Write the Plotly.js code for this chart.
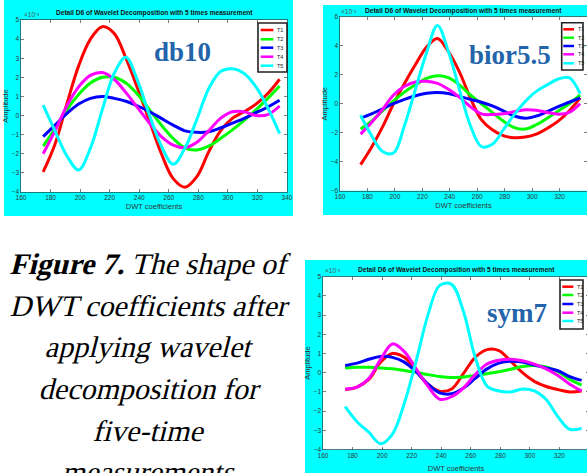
<!DOCTYPE html>
<html><head><meta charset="utf-8">
<script src="https://cdn.plot.ly/plotly-3.0.1.min.js"></script>
<style>html,body{margin:0;padding:0;overflow:hidden;background:#fff}#chart{width:590px;height:473px}</style>
</head><body><div id="chart"></div>
<script>
// ---------- data (values in units of 1e-3) ----------
const coeffIdx = [175,183,191,199,207,215,223,231,239,247,255,263,271,279,287,295,303,311,319,327,335];
const seriesNames = ['T1','T2','T3','T4','T5'];
const seriesColors = ['#FF0000','#00FF00','#0000FF','#FF00FF','#00FFFF'];

const db10_T1 = [-2.95,-1.5,0.6,2.6,4.0,4.65,4.3,3.0,1.4,-0.3,-2.0,-3.3,-3.75,-3.2,-1.9,-0.8,-0.15,0.2,0.6,1.15,1.9];
const db10_T2 = [-1.6,-0.7,0.3,1.1,1.7,2.0,2.0,1.7,1.1,0.3,-0.5,-1.2,-1.7,-1.8,-1.6,-1.2,-0.75,-0.25,0.3,0.9,1.55];
const db10_T3 = [-1.1,-0.5,0.1,0.6,0.9,1.0,0.9,0.75,0.5,0.2,-0.15,-0.5,-0.8,-0.88,-0.85,-0.65,-0.4,-0.15,0.15,0.45,0.8];
const db10_T4 = [-2.0,-0.8,0.5,1.5,2.1,2.25,1.9,1.2,0.4,-0.4,-1.1,-1.55,-1.68,-1.4,-0.8,-0.15,0.2,0.2,0.0,0.05,0.5];
const db10_T5 = [0.55,-0.8,-2.1,-2.85,-1.7,0.3,2.2,3.05,1.8,0.0,-1.6,-2.55,-1.7,-0.2,1.4,2.3,2.45,2.2,1.5,0.4,-0.95];

const bior55_T1 = [-4.2,-3.0,-1.6,0.0,1.4,2.7,3.9,4.5,3.6,2.2,0.4,-1.1,-1.8,-2.2,-2.35,-2.3,-2.1,-1.7,-1.2,-0.5,0.4];
const bior55_T2 = [-1.75,-1.2,-0.5,0.2,0.8,1.3,1.75,1.93,1.8,1.3,0.6,0.0,-0.6,-1.2,-1.65,-1.75,-1.45,-1.0,-0.5,0.0,0.6];
const bior55_T3 = [-1.0,-0.7,-0.35,0.0,0.3,0.55,0.72,0.78,0.7,0.5,0.3,0.1,-0.15,-0.5,-0.85,-1.0,-0.85,-0.55,-0.2,0.1,0.4];
const bior55_T4 = [-2.1,-1.3,-0.4,0.6,1.2,1.5,1.55,1.4,1.0,0.45,-0.2,-0.7,-0.75,-0.7,-0.55,-0.42,-0.45,-0.6,-0.72,-0.6,0.0];
const bior55_T5 = [-0.8,-2.2,-3.3,-3.4,-1.5,1.0,3.5,5.4,3.6,1.0,-1.5,-2.95,-2.8,-1.8,-0.75,0.15,0.85,1.3,1.7,1.8,0.7];

const sym7_T1 = [-0.88,-0.75,-0.35,0.55,1.0,0.8,0.1,-0.6,-0.97,-0.85,-0.05,0.8,1.2,1.15,0.6,0.0,-0.45,-0.72,-0.88,-1.0,-0.95];
const sym7_T2 = [0.25,0.28,0.28,0.25,0.2,0.12,0.02,-0.1,-0.2,-0.25,-0.22,-0.15,-0.05,0.05,0.18,0.32,0.38,0.3,0.05,-0.35,-0.65];
const sym7_T3 = [0.38,0.5,0.7,0.85,0.8,0.55,0.05,-0.6,-1.05,-1.1,-0.8,-0.3,0.2,0.5,0.6,0.55,0.4,0.25,0.1,-0.2,-0.4];
const sym7_T4 = [-0.85,-0.75,-0.3,0.7,1.5,1.1,0.2,-0.7,-1.38,-1.25,-0.8,-0.1,0.45,0.65,0.7,0.62,0.45,0.2,-0.15,-0.6,-0.95];
const sym7_T5 = [-1.77,-2.55,-3.1,-3.7,-3.2,-1.6,0.6,3.0,4.55,4.6,3.2,0.8,-0.7,-0.95,-1.0,-0.85,-0.95,-1.4,-2.3,-2.95,-2.9];

const xTickVals = [160,180,200,220,240,260,280,300,320,340];
const yTicksA = [-4,-3,-2,-1,0,1,2,3,4,5];
const yTicksB = [-6,-4,-2,0,2,4,6];
const panelTitle = 'Detail D6 of Wavelet Decomposition with 5 times measurement';
const xTitle = 'DWT coefficients';
const yTitle = 'Amplitude';
const expLabel = '\u00d710\u207b\u00b3';
const waveletNames = ['db10','bior5.5','sym7'];
const captionLines = [
  '<b>Figure 7.</b> The shape of',
  'DWT coefficients after',
  'applying wavelet',
  'decomposition for',
  'five-time',
  'measurements'
];

// ---------- layout geometry (pixels) ----------
const W = 590, H = 473;
const px = v => v / W;
const py = v => 1 - v / H;

const panels = [
  {series:[db10_T1,db10_T2,db10_T3,db10_T4,db10_T5], plot:[21,287,20,192], cyan:[4,293,0,216],
   yrange:[-4,5], yticks:yTicksA, xrange:[160,340], title:[154,13], xStand:3, yStand:1, exp:[22,14.5],
   label:[182,52],
   legend:{box:[258,287,23,72], rows:[30,39.3,47.7,56.7,65.7], line:[260.7,273.3], textX:275}},
  {series:[bior55_T1,bior55_T2,bior55_T3,bior55_T4,bior55_T5], plot:[340,587,16.7,190.7], cyan:[323,590,5,215],
   yrange:[-6,6], yticks:yTicksB, xrange:[160,340], title:[463.5,11], xStand:3, yStand:1, exp:[339,12],
   label:[510,55],
   legend:{box:[561.7,583,22.7,70], rows:[29.3,37.7,46,54.3,63.3], line:[563.3,574], textX:576}},
  {series:[sym7_T1,sym7_T2,sym7_T3,sym7_T4,sym7_T5], plot:[323,589,276.7,449.5], cyan:[305,590,260,473],
   yrange:[-4,5], yticks:yTicksA, xrange:[160,340], title:[456,269.5], xStand:7, yStand:1, exp:[323,270.5],
   label:[516.7,313],
   legend:{box:[560,583,280,329], rows:[286.7,295,304,312.7,321], line:[562.3,573.3], textX:575}}
];

const axColor = '#262626';
const sans = 'Liberation Sans, Arial, sans-serif';
const tickFont = {family:sans, size:6.5, color:'#333333'};
const axTitleFont = {family:sans, size:7.5, color:'#333333'};
const traces = [];
const shapes = [];
const annotations = [];
const layout = {
  width: W, height: H, margin:{l:0,r:0,t:0,b:0,pad:0},
  paper_bgcolor:'#ffffff', plot_bgcolor:'rgba(0,0,0,0)',
  showlegend:false, hovermode:false
};

panels.forEach((p, i) => {
  const n = i === 0 ? '' : String(i + 1);
  const xa = 'x' + n, ya = 'y' + n;
  shapes.push({type:'rect', xref:'paper', yref:'paper', layer:'below',
    x0:px(p.cyan[0]), x1:px(p.cyan[1]), y0:py(p.cyan[3]), y1:py(p.cyan[2]),
    fillcolor:'#00FFFF', line:{width:0}});
  shapes.push({type:'rect', xref:'paper', yref:'paper', layer:'below',
    x0:px(p.plot[0]), x1:px(p.plot[1]), y0:py(p.plot[3]), y1:py(p.plot[2]),
    fillcolor:'#ffffff', line:{width:0}});
  layout['xaxis' + n] = {
    domain:[px(p.plot[0]), px(p.plot[1])], anchor:ya, range:p.xrange,
    tickmode:'array', tickvals:xTickVals, ticks:'inside', ticklen:3, tickwidth:0.6, tickcolor:axColor,
    showline:true, linecolor:axColor, linewidth:0.6, mirror:'allticks',
    showgrid:false, zeroline:false, tickfont:tickFont, fixedrange:true,
    title:{text:xTitle, font:axTitleFont, standoff:p.xStand}
  };
  layout['yaxis' + n] = {
    domain:[py(p.plot[3]), py(p.plot[2])], anchor:xa, range:p.yrange,
    tickmode:'array', tickvals:p.yticks, ticks:'inside', ticklen:3, tickwidth:0.6, tickcolor:axColor,
    showline:true, linecolor:axColor, linewidth:0.6, mirror:'allticks',
    showgrid:false, zeroline:false, tickfont:tickFont, fixedrange:true,
    title:{text:yTitle, font:axTitleFont, standoff:p.yStand}
  };
  p.series.forEach((vals, k) => {
    traces.push({type:'scatter', mode:'lines', x:coeffIdx, y:vals, name:seriesNames[k],
      xaxis:xa, yaxis:ya, line:{color:seriesColors[k], width:3, shape:'spline', smoothing:1}});
  });
  annotations.push({xref:'paper', yref:'paper', x:px(p.title[0]), y:py(p.title[1]), text:'<b>' + panelTitle + '</b>',
    showarrow:false, xanchor:'center', yanchor:'middle',
    font:{family:sans, size:6.6, color:'#111'}});
  annotations.push({xref:'paper', yref:'paper', x:px(p.exp[0]), y:py(p.exp[1]), text:expLabel,
    showarrow:false, xanchor:'left', yanchor:'middle',
    font:{family:sans, size:6.5, color:'#555'}});
  annotations.push({xref:'paper', yref:'paper', x:px(p.label[0]), y:py(p.label[1]), text:'<b>' + waveletNames[i] + '</b>',
    showarrow:false, xanchor:'center', yanchor:'middle',
    font:{family:'Liberation Serif', size:27, color:'#2364AA'}});
  const L = p.legend;
  shapes.push({type:'rect', xref:'paper', yref:'paper',
    x0:px(L.box[0]), x1:px(L.box[1]), y0:py(L.box[3]), y1:py(L.box[2]),
    fillcolor:'#ffffff', line:{color:'#222', width:1.6}});
  seriesNames.forEach((nm, k) => {
    shapes.push({type:'line', xref:'paper', yref:'paper',
      x0:px(L.line[0]), x1:px(L.line[1]), y0:py(L.rows[k]), y1:py(L.rows[k]),
      line:{color:seriesColors[k], width:2.5}});
    annotations.push({xref:'paper', yref:'paper', x:px(L.textX), y:py(L.rows[k]), text:nm,
      showarrow:false, xanchor:'left', yanchor:'middle',
      font:{family:sans, size:5.5, color:'#222'}});
  });
});

// caption (serif, slanted afterwards since the italic face is not available)
const capBaselines = [274.3, 316, 357.7, 399.4, 441, 482.8];
const captionIdx = [];
captionLines.forEach((t, k) => {
  captionIdx.push(annotations.length);
  annotations.push({xref:'paper', yref:'paper', x:px(150), y:py(capBaselines[k] - 11), text:t,
    showarrow:false, xanchor:'center', yanchor:'middle',
    font:{family:'Liberation Serif', size:30, color:'#000'}});
});

layout.shapes = shapes;
layout.annotations = annotations;
Plotly.newPlot('chart', traces, layout, {staticPlot:true, displayModeBar:false}).then(gd => {
  gd.querySelectorAll('.annotation').forEach(a => {
    const idx = +a.getAttribute('data-index');
    if (captionIdx.indexOf(idx) >= 0) {
      a.querySelectorAll('text').forEach(t => {
        t.style.transformBox = 'fill-box';
        t.style.transformOrigin = '50% 50%';
        t.style.transform = 'skewX(-14deg)';
      });
    }
  });
});
</script></body></html>
